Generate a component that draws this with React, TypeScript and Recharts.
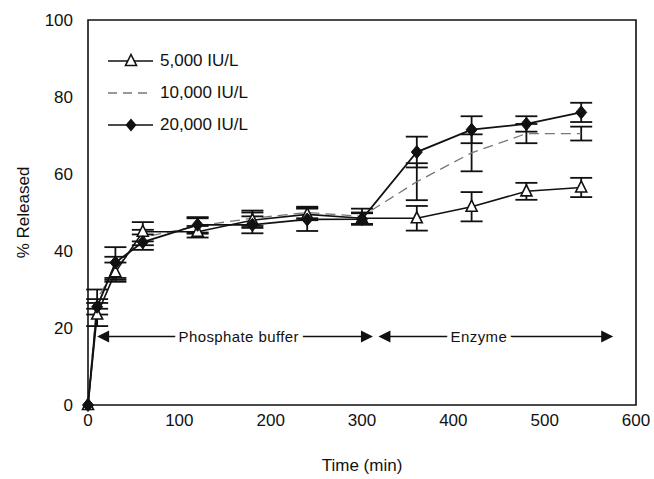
import React from 'react';
import {
  LineChart, Line, XAxis, YAxis, ErrorBar, Legend,
  ReferenceArea, ReferenceLine, ReferenceDot,
} from 'recharts';

const FONT = "'Liberation Sans', Arial, Helvetica, sans-serif";
const INK = '#111';

// sampling times (min)
const times = [0, 10, 30, 60, 120, 180, 240, 300, 360, 420, 480, 540];

// % released, mean and error, per enzyme concentration
const rel5000 = [0, 23.5, 34.5, 45, 45, 48, 49.5, 48.5, 48.5, 51.5, 55.5, 56.5];
const err5000 = [0, 3, 2.5, 2.5, 1.5, 2, 1.5, 1.5, 3.2, 3.8, 2.2, 2.5];
const rel10000 = [0, 27.5, 35.5, 43.5, 46.5, 48.5, 50, 49, 58, 65.5, 70.5, 70.5];
const err10000 = [0, 2.5, 3, 2, 2, 2, 1.5, 2, 4.8, 4.8, 2.5, 1.8];
const rel20000 = [0, 25.5, 37, 42.3, 46.8, 46.8, 48.2, 48.3, 65.7, 71.5, 73, 76];
const err20000 = [0, 2, 4, 2, 2, 2.2, 3, 1.5, 4, 3.5, 2, 2.5];

const seriesNames = ['5,000 IU/L', '10,000 IU/L', '20,000 IU/L'];

const xTicks = [0, 100, 200, 300, 400, 500, 600];
const yTicks = [0, 20, 40, 60, 80, 100];

// phase annotations
const phaseNames = ['Phosphate buffer', 'Enzyme'];
const phaseFrom = [10, 318];
const phaseTo = [312, 575];
const phaseTextAt = [165, 428];
const phaseLevel = 17.8;

const chartData = times.map((t, i) => ({
  t,
  a: rel5000[i], ea: err5000[i],
  b: rel10000[i], eb: err10000[i],
  c: rel20000[i], ec: err20000[i],
}));

const triangle = (cx: number, cy: number) =>
  `M${cx},${cy - 6.5} L${cx + 5.5},${cy + 4.5} L${cx - 5.5},${cy + 4.5} Z`;
const diamond = (cx: number, cy: number) =>
  `M${cx},${cy - 6.5} L${cx + 5.5},${cy} L${cx},${cy + 6.5} L${cx - 5.5},${cy} Z`;

const TriDot = (p: any) =>
  p.cx == null ? null : <path d={triangle(p.cx, p.cy)} fill="#fff" stroke={INK} strokeWidth={1.6} />;
const DiaDot = (p: any) =>
  p.cx == null ? null : <path d={diamond(p.cx, p.cy)} fill={INK} stroke={INK} strokeWidth={1} />;

function DoubleArrow(p: any) {
  const { x1, y1, x2, y2 } = p;
  const L = 12, H = 6;
  return (
    <g>
      <line x1={x1 + L - 1} y1={y1} x2={x2 - L + 1} y2={y2} stroke={INK} strokeWidth={1.6} />
      <path d={`M${x1},${y1} L${x1 + L},${y1 - H} L${x1 + L},${y1 + H} Z`} fill={INK} />
      <path d={`M${x2},${y2} L${x2 - L},${y2 - H} L${x2 - L},${y2 + H} Z`} fill={INK} />
    </g>
  );
}

const phaseText = (text: string) => (props: any) => {
  const vb = props.viewBox || {};
  const cx = vb.x + (vb.width || 0) / 2;
  const cy = vb.y + (vb.height || 0) / 2;
  return (
    <text
      x={cx} y={cy} dy="0.36em" textAnchor="middle"
      fontFamily={FONT} fontSize={15} fill={INK} letterSpacing={0.4}
      stroke="#fff" strokeWidth={9}
      style={{ paintOrder: 'stroke' }}
    >
      {text}
    </text>
  );
};

function LegendBox() {
  return (
    <div style={{ fontFamily: FONT, fontSize: 17, color: INK, lineHeight: '20px' }}>
      {seriesNames.map((name, i) => (
        <div key={name} style={{ display: 'flex', alignItems: 'center', height: 32 }}>
          <svg width={52} height={20} style={{ display: 'block' }}>
            {i === 1 ? (
              <line x1={0} x2={45} y1={10} y2={10} stroke="#777" strokeWidth={1.3} strokeDasharray="9 6" />
            ) : (
              <line x1={0} x2={45} y1={10} y2={10} stroke={INK} strokeWidth={1.6} />
            )}
            {i === 0 && <path d={triangle(23, 10)} fill="#fff" stroke={INK} strokeWidth={1.6} />}
            {i === 2 && <path d={diamond(23, 10)} fill={INK} />}
          </svg>
          <span>{name}</span>
        </div>
      ))}
    </div>
  );
}

export default function App() {
  const tick = { fill: INK, fontSize: 17, fontFamily: FONT };
  return (
    <div style={{ position: 'absolute', left: 0, top: 0, background: '#fff' }}>
      <LineChart width={654} height={479} data={chartData} margin={{ top: 20, right: 18, left: 0, bottom: 0 }}>
        <XAxis
          type="number" dataKey="t" domain={[0, 600]} ticks={xTicks}
          axisLine={false} tickLine={false} tickSize={6} tickMargin={3}
          height={74} tick={tick}
          label={{ value: 'Time (min)', position: 'insideBottom', offset: 8, fill: INK, fontSize: 17, fontFamily: FONT }}
        />
        <YAxis
          type="number" domain={[0, 100]} ticks={yTicks}
          axisLine={false} tickLine={false} tickSize={6} tickMargin={9}
          width={88} tick={tick}
          label={{ value: '% Released', angle: -90, position: 'insideLeft', offset: 23, fill: INK, fontSize: 17, fontFamily: FONT, style: { textAnchor: 'middle' } }}
        />
        <ReferenceArea x1={0} x2={600} y1={0} y2={100} fill="none" stroke={INK} strokeWidth={1.6} ifOverflow="visible" />
        {phaseNames.map((name, i) => (
          <ReferenceLine
            key={`l${name}`}
            segment={[{ x: phaseFrom[i], y: phaseLevel }, { x: phaseTo[i], y: phaseLevel }]}
            shape={DoubleArrow}
          />
        ))}
        {phaseNames.map((name, i) => (
          <ReferenceDot
            key={`t${name}`} x={phaseTextAt[i]} y={phaseLevel} r={0}
            fill="none" stroke="none"
            label={{ content: phaseText(name) } as any}
          />
        ))}
        <Line
          dataKey="b" name={seriesNames[1]} stroke="#777" strokeWidth={1.3} strokeDasharray="10 6"
          dot={false} activeDot={false} isAnimationActive={false}
        >
          <ErrorBar dataKey="eb" width={11} stroke={INK} strokeWidth={1.8} />
        </Line>
        <Line
          dataKey="a" name={seriesNames[0]} stroke={INK} strokeWidth={1.6}
          dot={TriDot} activeDot={false} isAnimationActive={false}
        >
          <ErrorBar dataKey="ea" width={11} stroke={INK} strokeWidth={1.8} />
        </Line>
        <Line
          dataKey="c" name={seriesNames[2]} stroke={INK} strokeWidth={1.8}
          dot={DiaDot} activeDot={false} isAnimationActive={false}
        >
          <ErrorBar dataKey="ec" width={11} stroke={INK} strokeWidth={1.8} />
        </Line>
        <Legend
          layout="vertical" align="center" verticalAlign="middle"
          content={<LegendBox />}
          wrapperStyle={{ left: 108, top: 45, width: 'auto', height: 'auto' }}
        />
      </LineChart>
    </div>
  );
}
